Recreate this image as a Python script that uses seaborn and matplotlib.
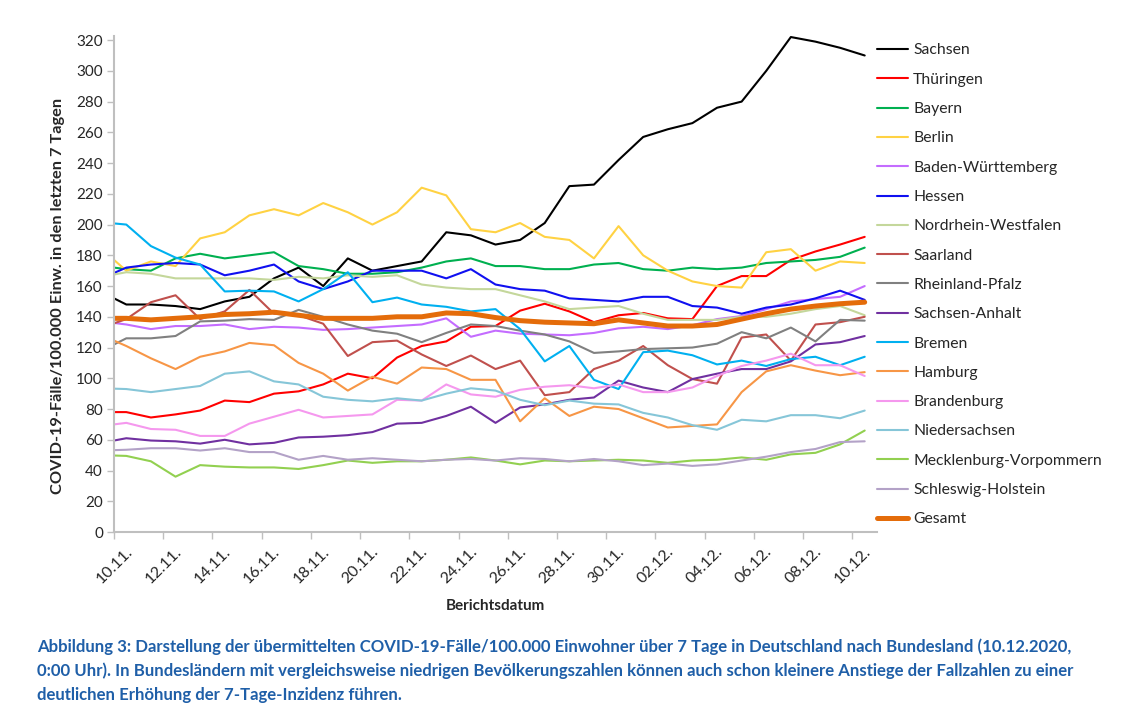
import pandas as pd
import matplotlib
matplotlib.use("Agg")
import matplotlib.pyplot as plt
import matplotlib.transforms as mtransforms
import seaborn as sns

# dates: 09.11. is only there so the line enters from the left edge like in the report
dates = ["09.11."] + ["%02d.11." % d for d in range(10, 31)] + ["%02d.12." % d for d in range(1, 11)]

sachsen = [156, 148, 148, 147, 145, 150, 153, 165, 172, 160, 178, 170, 173, 176, 195, 193, 187, 190, 201, 225, 226, 242, 257, 262, 266, 276, 280, 300, 322, 319, 315, 310]
thueringen = [78, 78, 74.5, 76.5, 79, 85.5, 84.5, 90, 91.5, 96, 103, 100, 113.5, 121, 124, 133.5, 134, 144, 148.5, 143.5, 136.5, 141, 142.5, 139, 138.5, 160, 166.5, 166.5, 177, 182.5, 187, 192]
bayern = [173, 171, 170, 178, 181, 178, 180, 182, 173, 171, 168, 168, 169, 172, 176, 178, 173, 173, 171, 171, 174, 175, 171, 170, 172, 171, 172, 175, 176, 177, 179, 185]
berlin = [184, 170, 176, 173, 191, 195, 206, 210, 206, 214, 208, 200, 208, 224, 219, 197, 195, 201, 192, 190, 178, 199, 180, 170, 163, 160, 159, 182, 184, 170, 176, 175]
bawue = [137, 135, 132, 134, 134, 135, 132, 133.5, 133, 131.5, 132, 133, 134, 135, 139, 127, 131, 129, 128.5, 128, 129.5, 132.5, 133.5, 132, 134.5, 138.5, 140.5, 145, 150, 151.5, 153, 160]
hessen = [165, 172, 174, 175, 174, 167, 170, 174, 163, 158, 163, 170, 170, 170, 165, 171, 161, 158, 157, 152, 151, 150, 153, 153, 147, 146, 142, 146, 148, 152, 157, 151]
nrw = [166, 169, 168, 165, 165, 165, 165, 164, 166, 165, 167, 166, 167, 161, 159, 158, 158, 154, 150, 145, 146, 147, 142, 138, 138, 138, 140, 140, 142, 145, 147, 141]
saarland = [133, 138.5, 149.5, 154, 138.5, 143.5, 157.5, 142, 141, 135.5, 114.5, 123.5, 124.5, 115.5, 108, 114.8, 106, 111.5, 89, 91, 106, 111.5, 121, 108.5, 99.5, 96.5, 126.5, 128.5, 111.5, 135, 136.5, 140]
rlp = [118, 126, 126, 127.5, 137, 137.5, 138.5, 138, 144.5, 140, 135, 131, 129, 123.5, 129.5, 135, 134, 131, 128.5, 124, 116.5, 117.5, 119, 119.5, 120, 122.5, 130, 126, 133, 124, 138, 137.5]
sachsen_anhalt = [58, 61, 59.5, 59, 57.5, 60, 57, 58, 61.5, 62, 63, 65, 70.5, 71, 75.5, 81.5, 71, 81, 83, 86, 87.5, 98.5, 94, 91, 99.5, 103, 106, 106, 111, 122, 123.5, 127.5]
bremen = [201.5, 200, 186, 178.5, 174, 156.5, 157, 156.5, 150, 158, 169, 149.5, 152.5, 148, 146.5, 143.5, 145, 132, 111, 121, 99, 93, 117, 118, 115, 109, 111.5, 108, 112.5, 114, 108.5, 114]
hamburg = [128, 121, 113, 106, 114, 117.5, 123, 121.5, 110, 103, 92, 101, 96.5, 107, 106, 99, 99, 72, 87, 75.5, 81.5, 80, 74, 68, 69, 70, 91, 104.5, 108.5, 105, 102, 104]
brandenburg = [69, 71, 67, 66.5, 62.5, 62.5, 70.5, 75, 79.5, 74.5, 75.5, 76.5, 86, 85.5, 96, 89.5, 88, 92.5, 94.5, 95.5, 93.5, 96, 91, 91, 94, 101.5, 108, 111.5, 116, 108.5, 108.5, 101.5]
niedersachsen = [93.5, 93, 91, 93, 95, 103, 104.5, 98, 96, 88, 86, 85, 87, 85.5, 90, 93.5, 92, 86, 82.5, 85.5, 83.5, 83, 77.5, 74.5, 69.5, 66.5, 73, 72, 76, 76, 74, 79]
mv = [50, 49.5, 46, 36, 43.5, 42.5, 42, 42, 41, 43.5, 46.5, 45, 46, 46, 47, 48.5, 46.5, 44, 46.5, 46, 46.5, 47, 46.5, 45, 46.5, 47, 48.5, 47, 50.5, 51.5, 57, 66]
sh = [53, 53.5, 54.5, 54.5, 53, 54.5, 52, 52, 47, 49.5, 47, 48, 47, 46, 47, 47.5, 46.5, 48, 47.5, 46, 47.5, 46, 43.5, 44.5, 43, 44, 46.5, 49, 52, 54, 58.5, 59]
gesamt = [139, 139, 138, 139, 140, 141.5, 142, 143, 141, 139, 139, 139, 140, 140, 142.5, 142, 139.5, 137.5, 136.5, 136, 135.5, 138, 136, 134, 134, 135, 138.5, 142, 145, 147, 148.5, 149.5]

series = [
    ("Sachsen", sachsen, "#000000"),
    ("Thüringen", thueringen, "#ff0000"),
    ("Bayern", bayern, "#00b050"),
    ("Berlin", berlin, "#ffd243"),
    ("Baden-Württemberg", bawue, "#c46cff"),
    ("Hessen", hessen, "#1010f0"),
    ("Nordrhein-Westfalen", nrw, "#c4d79b"),
    ("Saarland", saarland, "#c0504d"),
    ("Rheinland-Pfalz", rlp, "#808080"),
    ("Sachsen-Anhalt", sachsen_anhalt, "#7030a0"),
    ("Bremen", bremen, "#00b0f0"),
    ("Hamburg", hamburg, "#f79646"),
    ("Brandenburg", brandenburg, "#f598ee"),
    ("Niedersachsen", niedersachsen, "#86c6d8"),
    ("Mecklenburg-Vorpommern", mv, "#92d050"),
    ("Schleswig-Holstein", sh, "#b3a2c7"),
    ("Gesamt", gesamt, "#e46c0a"),
]

sns.set_style("white")
plt.rcParams["font.family"] = ["Lato", "DejaVu Sans"]

W, H = 1137, 717
fig = plt.figure(figsize=(W / 100, H / 100), dpi=100)
# y=0 at 532 px, y=323 at ~35 px
ax = fig.add_axes([114 / W, (H - 532) / H, 763 / W, 496.5 / H])

pos = list(range(len(dates)))
for name, vals, col in series:
    lw = 3.6 if name == "Gesamt" else 1.5
    sns.lineplot(x=pos, y=vals, ax=ax, color=col, linewidth=lw, label=name)

ax.set_xlim(0.5, 31.5)
ax.set_ylim(0, 323)
ax.set_yticks(range(0, 321, 20))
ax.tick_params(axis="y", labelsize=11, length=5, width=1, color="#bfbfbf", direction="out", left=True, pad=3)
ticks = [i - 0.5 for i in range(1, 32, 2)]
ax.set_xticks(ticks)
ax.set_xticklabels([dates[i] for i in range(1, 32, 2)], rotation=45, ha="right", rotation_mode="anchor")
ax.tick_params(axis="x", labelsize=11.5, length=5, width=1, color="#bfbfbf", direction="out", bottom=True, pad=4)
shift = mtransforms.ScaledTranslation(11 / 100, 0, fig.dpi_scale_trans)
for lab in ax.get_xticklabels():
    lab.set_transform(lab.get_transform() + shift)

sns.despine(ax=ax)
for s in ["left", "bottom"]:
    ax.spines[s].set_color("#bfbfbf")
    ax.spines[s].set_linewidth(1.5)

ax.set_ylabel("COVID-19-Fälle/100.000 Einw. in den letzten 7 Tagen", fontsize=11.8, fontweight="bold")
ax.yaxis.set_label_coords(-49 / 763, 0.475)
ax.set_xlabel("Berichtsdatum", fontsize=11, fontweight="bold", labelpad=9)

ax.legend_.remove()
handles, labels = ax.get_legend_handles_labels()
fig.legend(handles, labels, loc="upper left", bbox_to_anchor=(877 / W, 1 - 43.5 / H), frameon=False, fontsize=11.3,
           handlelength=2.0, handletextpad=0.3, labelspacing=0.975, borderaxespad=0, borderpad=0)

caption = ("Abbildung 3: Darstellung der übermittelten COVID-19-Fälle/100.000 Einwohner über 7 Tage in Deutschland nach Bundesland (10.12.2020,\n"
           "0:00 Uhr). In Bundesländern mit vergleichsweise niedrigen Bevölkerungszahlen können auch schon kleinere Anstiege der Fallzahlen zu einer\n"
           "deutlichen Erhöhung der 7-Tage-Inzidenz führen.")
fig.text(37 / W, 1 - 638 / H, caption, fontsize=12.1, fontweight="bold", color="#1f5fa8",
         va="top", ha="left", linespacing=1.6)

fig.savefig("out.png", dpi=100)
